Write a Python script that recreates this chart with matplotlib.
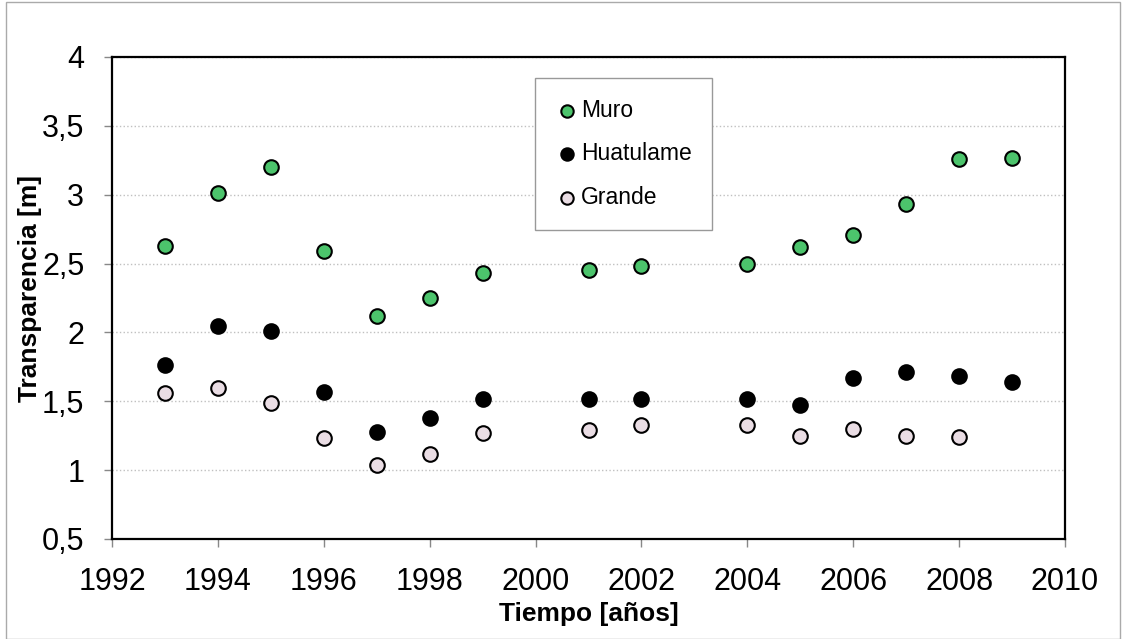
import matplotlib.pyplot as plt
from matplotlib.ticker import FuncFormatter, MultipleLocator
from matplotlib.patches import Rectangle

plt.rcParams['font.family'] = ['Liberation Sans', 'DejaVu Sans']

# años de muestreo
years_muro = [1993, 1994, 1995, 1996, 1997, 1998, 1999, 2001, 2002, 2004, 2005, 2006, 2007, 2008, 2009]
muro = [2.63, 3.01, 3.20, 2.59, 2.12, 2.25, 2.43, 2.45, 2.48, 2.50, 2.62, 2.71, 2.93, 3.26, 3.27]

years_huat = [1993, 1994, 1995, 1996, 1997, 1998, 1999, 2001, 2002, 2004, 2005, 2006, 2007, 2008, 2009]
huatulame = [1.76, 2.05, 2.01, 1.57, 1.28, 1.38, 1.52, 1.52, 1.52, 1.52, 1.47, 1.67, 1.71, 1.68, 1.64]

years_grande = [1993, 1994, 1995, 1996, 1997, 1998, 1999, 2001, 2002, 2004, 2005, 2006, 2007, 2008]
grande = [1.56, 1.60, 1.49, 1.23, 1.04, 1.12, 1.27, 1.29, 1.33, 1.33, 1.25, 1.30, 1.25, 1.24]

fig = plt.figure(figsize=(11.26, 6.39), dpi=100)
ax = fig.add_axes([0.0995, 0.1565, 0.8463, 0.7543])

ax.scatter(years_muro, muro, s=110, color='#4cc46c', edgecolor='black', linewidth=1.5, label='Muro', zorder=3)
ax.scatter(years_huat, huatulame, s=110, color='black', edgecolor='black', linewidth=1.5, label='Huatulame', zorder=3)
ax.scatter(years_grande, grande, s=110, color='#eadde4', edgecolor='black', linewidth=1.5, label='Grande', zorder=3)

ax.set_xlim(1992, 2010)
ax.set_ylim(0.5, 4)
ax.xaxis.set_major_locator(MultipleLocator(2))
ax.yaxis.set_major_locator(MultipleLocator(0.5))
ax.yaxis.set_major_formatter(FuncFormatter(lambda v, p: ('%g' % v).replace('.', ',')))
ax.tick_params(labelsize=22, length=6, width=1, color='#888888', direction='out')
ax.tick_params(axis='x', pad=14)
ax.tick_params(axis='y', pad=14)

ax.grid(axis='y', linestyle=':', color='#c0c0c0', linewidth=1)
ax.set_axisbelow(True)
for sp in ax.spines.values():
    sp.set_linewidth(1.6)
    sp.set_color('black')

ax.set_xlabel('Tiempo [años]', fontsize=19, fontweight='bold', labelpad=4)
ax.set_ylabel('Transparencia [m]', fontsize=19, fontweight='bold')
ax.yaxis.set_label_coords(-0.073, 0.52)

leg = ax.legend(loc='upper left', bbox_to_anchor=(0.444, 0.956), borderaxespad=0,
                fontsize=16.5, fancybox=False, framealpha=1, edgecolor='#999999',
                handletextpad=0.1, labelspacing=0.9, borderpad=0.9, markerscale=0.85,
                handlelength=1.0)
leg.get_frame().set_linewidth(1)

# marco exterior
fig.patches.append(Rectangle((0.005, 0.0), 0.99, 0.997, transform=fig.transFigure,
                             fill=False, edgecolor='#aaaaaa', linewidth=1))

fig.savefig('out.png', dpi=100)
